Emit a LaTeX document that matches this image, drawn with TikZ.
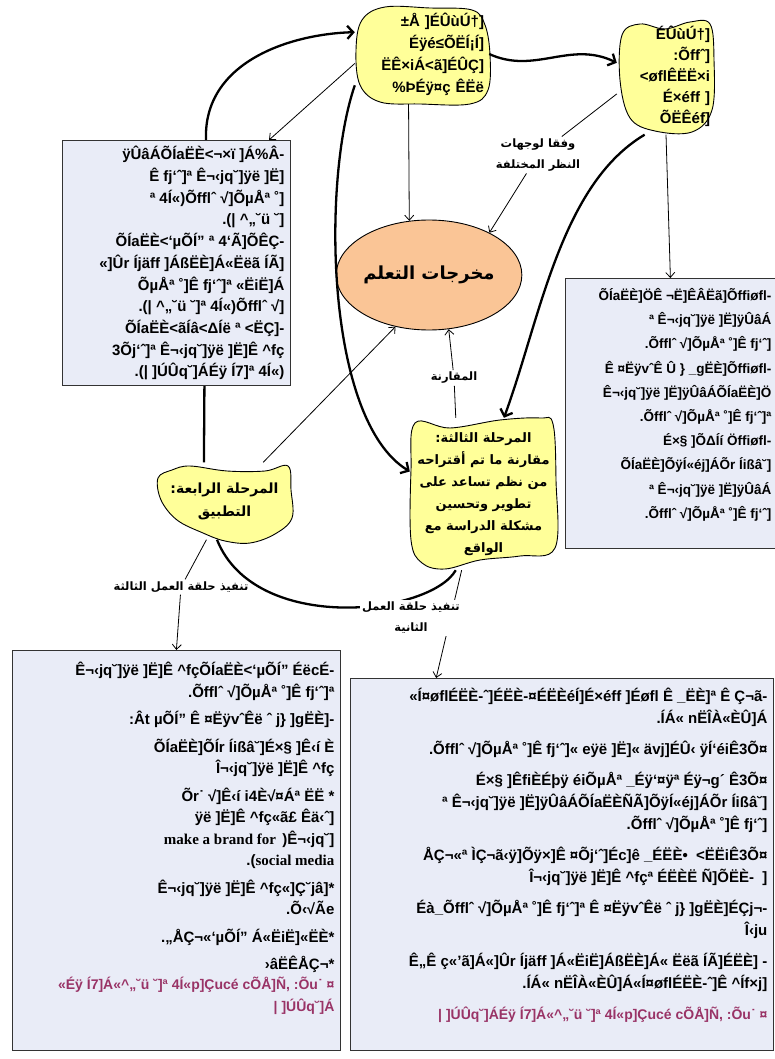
\documentclass[tikz,border=0pt]{standalone}
\usepackage{fontspec}
\setmainfont{Liberation Sans}
\newfontfamily\arabicfont[Script=Arabic]{DejaVu Sans}
\newfontfamily\romanfont{Liberation Serif}
\usetikzlibrary{arrows.meta,shapes.geometric}
\TeXXeTstate=1

\definecolor{blobyellow}{RGB}{255,255,153}
\definecolor{panelblue}{RGB}{233,236,247}
\definecolor{peach}{RGB}{250,197,150}
\definecolor{notepink}{RGB}{153,51,102}

\newcommand{\ar}[1]{{\arabicfont\bfseries\beginR #1\endR}}
\newcommand{\panelbody}[4]{\parbox[t][#1][t]{#2}{\raggedleft\vspace*{#3}#4}}

\begin{document}
\begin{tikzpicture}[x=1pt,y=-1pt,
    blob/.style={draw, line width=0.9pt, fill=blobyellow},
    blobtext/.style={inner sep=0pt, font=\fontsize{15}{22}\selectfont\bfseries},
    phasetext/.style={inner sep=0pt, align=center, font=\fontsize{13}{22}\selectfont},
    panel/.style={draw=black!80, line width=0.8pt, fill=panelblue, anchor=north west,
                  inner sep=6pt, font=\fontsize{15}{21.7}\selectfont\bfseries},
    tag/.style={inner sep=2pt, align=center, font=\fontsize{11.5}{21}\selectfont},
    thinarrow/.style={line width=0.8pt, -{Straight Barb[length=5pt,width=9pt]}},
    thickarrow/.style={line width=2.3pt, -{Straight Barb[length=6pt,width=13pt]}},
    thickline/.style={line width=2.3pt}
    ]
    \useasboundingbox (0,0) rectangle (774,1059);

    % yellow blobs
    \draw[blob] plot[smooth cycle, tension=0.6] coordinates {(362,20) (385,7) (430,8) (472,10) (485,25) (490,55) (488,90) (470,104) (420,104) (380,102) (360,85) (356,50)};
    \draw[blob] plot[smooth cycle, tension=0.6] coordinates {(622,35) (640,24) (665,29) (690,22) (710,24) (714,60) (712,110) (692,132) (655,131) (630,118) (620,80)};
    \draw[blob] plot[smooth cycle, tension=0.6] coordinates {(415,423) (450,428) (500,420) (540,418) (553,424) (556,480) (555,548) (520,556) (480,560) (445,569) (422,563) (411,540) (411,470)};
    \draw[blob] plot[smooth cycle, tension=0.6] coordinates {(158,478) (172,470) (190,466) (227,471) (265,471) (288,466) (291,490) (292,518) (275,534) (250,543) (225,541) (203,533) (177,520) (161,500)};

    \node[blobtext, minimum width=134pt, minimum height=100pt, text width=124pt, align=right] (hub) at (422,54)
        {±Å ]ÉÛùÚ†]\\ Éÿé≤ÕËÍ¡Í]\\ ËÊ×iÁ<ã]ÉÛÇ]\\ \%ÞÉÿ¤ç ÊËë};
    \node[blobtext, minimum width=98pt, minimum height=117pt, text width=88pt, align=right,
          font=\fontsize{15}{21}\selectfont\bfseries] (views) at (666,76)
        {ÉÛùÚ†]\\ :Õffˆ]\\ <øflÊËË×i\\ É×éff ]\\ ÕËÊéf]};
    \node[phasetext, minimum width=147pt, minimum height=152pt] (phasethree) at (483.5,494)
        {\ar{المرحلة الثالثة:}\\ \ar{مقارنة ما تم أقتراحه}\\ \ar{من نظم تساعد على}\\ \ar{تطوير وتحسين}\\ \ar{مشكلة الدراسة مع}\\ \ar{الواقع}};
    \node[phasetext, minimum width=135pt, minimum height=77pt, font=\fontsize{14}{23}\selectfont] (phasefour) at (224.5,501)
        {\ar{المرحلة الرابعة:}\\ \ar{التطبيق}};

    \node[draw, ellipse, line width=0.9pt, fill=peach, minimum width=138pt, minimum height=110pt,
          inner sep=0pt, font=\fontsize{18}{22}\selectfont] (outcomes) at (429,275) {\ar{مخرجات التعلم}};

    \draw[thickarrow] (phasefour.118) -- (206,140) .. controls (203,62) and (290,34) .. (hub.162);

    \node[panel] (lbox) at (62,140) {\panelbody{233pt}{216pt}{0pt}{%
        ÿÛâÁÕÍaËÈ<¬×ï ]Á\%Â-\\
        Ê fj‘ˆ]ª Ê¬‹jq˘]ÿë ]Ë]\\
        ª 4Í«)Õfflˆ √]ÕµÅª ˚]\\
        .(| \textasciicircum„˘ü ˘]\\
        ÕÍaËÈ<‘µÕÍ” ª 4‘Ã]ÕÊÇ-\\
        «]Ûr Íjäff ]ÁßËÈ]Á«Ëëã ÍÃ]\\
        ÕµÅª ˚]Ê fj‘ˆ]ª «ËiË]Á\\
        .(| \textasciicircum„˘ü ˘]ª 4Í«)Õfflˆ √]\\
        ÕÍaËÈ<ãÍâ<ΔÍë ª <ËÇ]-\\
        3Õj‘ˆ]ª Ê¬‹jq˘]ÿë ]Ë]Ê \textasciicircum fç\\
        .(| ]ÚÛq˘]ÁÉÿ Í7]ª 4Í«)}};
    \node[panel, inner sep=4pt, font=\fontsize{13.5}{24.2}\selectfont\bfseries] (rbox) at (565,278) {\panelbody{262pt}{202pt}{6pt}{%
        ÕÍaËÈ]ÖÊ ¬Ë]ÊÂËã]Õffiøfl-\\
        ª Ê¬‹jq˘]ÿë ]Ë]ÿÛâÁ\\
        .Õfflˆ √]ÕµÅª ˚]Ê fj‘ˆ]\\
        Ê ¤ËÿvˆÊ Û \} \_gËÈ]Õffiøfl-\\
        Ê¬‹jq˘]ÿë ]Ë]ÿÛâÁÕÍaËÈ]Ö\\
        .Õfflˆ √]ÕµÅª ˚]Ê fj‘ˆ]ª\\
        É×§ ]ÕΔÍí Öffiøfl-\\
        ÕÍaËÈ]ÕÿÍ«éj]ÁÕr Íißâ˘]\\
        ª Ê¬‹jq˘]ÿë ]Ë]ÿÛâÁ\\
        .Õfflˆ √]ÕµÅª ˚]Ê fj‘ˆ]}};
    \node[panel, font=\fontsize{15}{21.5}\selectfont\bfseries] (blbox) at (12,650) {\panelbody{388pt}{316pt}{6pt}{%
        Ê¬‹jq˘]ÿë ]Ë]Ê \textasciicircum fçÕÍaËÈ<‘µÕÍ” ÉëcÉ-\\
        .Õfflˆ √]ÕµÅª ˚]Ê fj‘ˆ]ª\\[6pt]
        :Ât µÕÍ” Ê ¤ËÿvˆÊë ˆ j\} ]gËÈ]-\\[6pt]
        ÕÍaËÈ]ÕÍr Íißâ˘]É×§ ]Ê‹í È\\
        Î¬‹jq˘]ÿë ]Ë]Ê \textasciicircum fç\\[6pt]
        Õr˙ √]Ê‹í i4È√¤Áª ËË *\\
        ÿë ]Ë]Ê \textasciicircum fç«ã£ Êä‹ˆ]\\
        {\romanfont make a brand for }\,)Ê¬‹jq˘]\\
        .({\romanfont social media}\\[6pt]
        Ê¬‹jq˘]ÿë ]Ë]Ê \textasciicircum fç«]Ç˘jâ]*\\
        .Õ‹√Ãe\\[6pt]
        .„ÅÇ¬«‘µÕÍ” Á«ËiË]«ËÈ*\\[6pt]
        ›âËÊÅÇ¬*\\
        {\fontsize{14}{20}\selectfont\color{notepink}«Éÿ Í7]Á«\textasciicircum„˘ü ˘]ª 4Í«p]Çucé cÕÅ]Ñ, :Õu˙ ¤\\ | ]ÚÛq˘]Á}}};
    \node[panel, font=\fontsize{15}{22}\selectfont\bfseries] (brbox) at (350,678) {\panelbody{360pt}{411pt}{4pt}{%
        «Í¤øflÉËÈ-ˆ]ÉËÈ-¤ÉËÈéÍ]É×éff ]Éøfl Ê \_ËÈ]ª Ê Ç¬ã-\\
        .ÍÁ« nËÎÀ«ÈÛ]Á\\[9pt]
        .Õfflˆ √]ÕµÅª ˚]Ê fj‘ˆ]« eÿë ]Ë]« ävj]ÉÛ‹ ÿÍ‘éiÊ3Õ¤\\[9pt]
        É×§ ]ÊfiÈÉþÿ éiÕµÅª \_Éÿ‘¤ÿª Éÿ¬g´ Ê3Õ¤\\
        ª Ê¬‹jq˘]ÿë ]Ë]ÿÛâÁÕÍaËÈÑÃ]ÕÿÍ«éj]ÁÕr Íißâ˘]\\
        .Õfflˆ √]ÕµÅª ˚]Ê fj‘ˆ]\\[9pt]
        ÅÇ¬«ª ÌÇ¬ã‹ÿ]Õÿ×]Ê ¤Õj‘ˆ]Éc]ê \_ÉËÈ•~ <ËËiÊ3Õ¤\\
        Î¬‹jq˘]ÿë ]Ë]Ê \textasciicircum fçª ÉËÈË Ñ]ÕËÈ-~ ]\\[9pt]
        Éà\_Õfflˆ √]ÕµÅª ˚]Ê fj‘ˆ]ª Ê ¤ËÿvˆÊë ˆ j\} ]gËÈ]ÉÇj¬-\\
        Î‹ju\\[9pt]
        Ê„Ê ç«'ã]Á«]Ûr Íjäff ]Á«ËiË]ÁßËÈ]Á« Ëëã ÍÃ]ÉËÈ] -\\
        .ÍÁ« nËÎÀ«ÈÛ]Á«Í¤øflÉËÈ-ˆ]Ê \textasciicircum Íf×j]\\[9pt]
        {\fontsize{14}{20}\selectfont\color{notepink}| ]ÚÛq˘]ÁÉÿ Í7]Á«\textasciicircum„˘ü ˘]ª 4Í«p]Çucé cÕÅ]Ñ, :Õu˙ ¤}}};

    \node[tag] (lblviews) at (538,155) {\ar{وفقا لوجهات}\\ \ar{النظر المختلفة}};
    \node[tag] (lblcompare) at (454,378) {\ar{المقارنة}};
    \node[tag] (lblthird) at (181,587) {\ar{تنفيذ حلقة العمل الثالثة}};

    \draw[thickarrow] (hub.east) .. controls (535,75) and (570,40) .. (views.165);
    \draw[thinarrow] (hub.188) -- (lbox.53);
    \draw[thinarrow] (hub.255) -- (outcomes.110);
    \draw[thickarrow] (hub.205) .. controls (322,180) and (325,420) .. (phasethree.163);
    \draw[thinarrow] (views.200) -- (lblviews) -- (outcomes.35);
    \draw[thickarrow] (views.250) .. controls (560,185) and (540,320) .. (phasethree.75);
    \draw[thinarrow] (views.south) -- (rbox.north);
    \draw[thinarrow] (phasefour.45) -- (outcomes.237);
    \draw[thinarrow] (phasethree.110) -- (lblcompare) -- (outcomes.-70);
    \draw[thinarrow] (phasefour.245) -- (lblthird) -- (blbox.north);
    \draw[thickline] (phasethree.250) .. controls (430,615) and (255,635) .. (phasefour.259);
    \draw[thinarrow] (phasethree.254) -- (brbox.124);

    \node[tag, fill=white] (lblsecond) at (411,618) {\ar{تنفيذ حلقة العمل}\\ \ar{الثانية}};
\end{tikzpicture}
\end{document}
